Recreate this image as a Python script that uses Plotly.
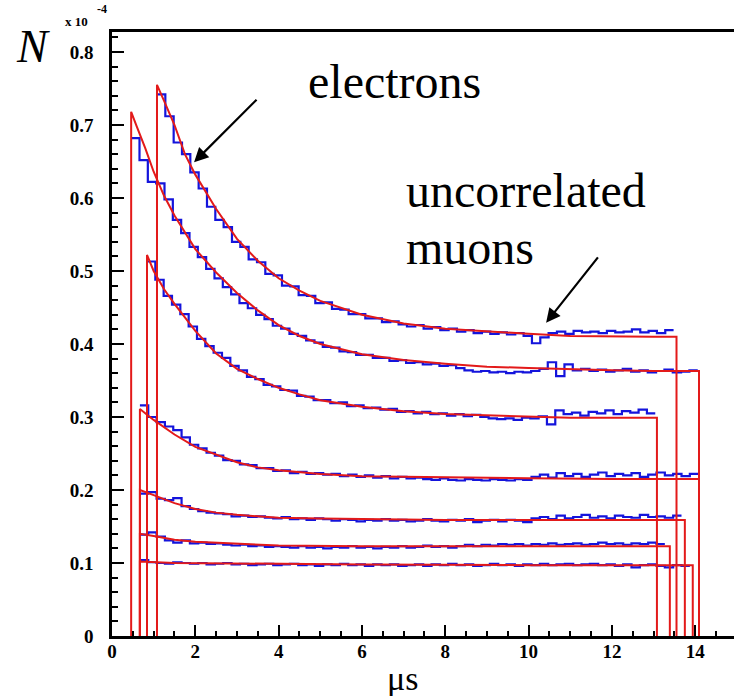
import numpy as np
import plotly.graph_objects as go

BIN = 0.2

# ---- blue histograms (measured), bin start edge + values ----
a_start = 1.08
a_vals = [0.742, 0.712, 0.676, 0.660, 0.635, 0.613, 0.588, 0.570, 0.560, 0.540,
          0.533, 0.516, 0.512, 0.496, 0.494, 0.480, 0.479, 0.467, 0.466, 0.456,
          0.457, 0.448, 0.447, 0.441, 0.441, 0.435, 0.435, 0.430, 0.431, 0.427,
          0.424, 0.426, 0.421, 0.423, 0.419, 0.421, 0.417, 0.419, 0.415, 0.417,
          0.414, 0.416, 0.413, 0.415, 0.411, 0.401, 0.409, 0.415, 0.417, 0.414,
          0.418, 0.416, 0.417, 0.415, 0.418, 0.416, 0.417, 0.420, 0.416, 0.418,
          0.415, 0.419]
b_start = 0.46
b_vals = [0.682, 0.652, 0.622, 0.620, 0.598, 0.570, 0.552, 0.533, 0.519, 0.503,
          0.490, 0.478, 0.468, 0.456, 0.449, 0.440, 0.434, 0.425, 0.421, 0.414,
          0.411, 0.405, 0.402, 0.396, 0.395, 0.390, 0.389, 0.385, 0.385, 0.381,
          0.381, 0.377, 0.378, 0.374, 0.375, 0.372, 0.373, 0.370, 0.371, 0.367,
          0.364, 0.362, 0.363, 0.361, 0.362, 0.360, 0.362, 0.361, 0.363, 0.366,
          0.375, 0.356, 0.372, 0.364, 0.366, 0.363, 0.365, 0.362, 0.364, 0.366,
          0.362, 0.364, 0.361, 0.363, 0.365, 0.361, 0.362, 0.364]
c_start = 0.84
c_vals = [0.513, 0.488, 0.466, 0.454, 0.441, 0.424, 0.407, 0.397, 0.388, 0.381,
          0.370, 0.364, 0.355, 0.352, 0.344, 0.342, 0.337, 0.336, 0.329, 0.328,
          0.323, 0.323, 0.319, 0.320, 0.315, 0.316, 0.312, 0.313, 0.310, 0.311,
          0.307, 0.308, 0.305, 0.307, 0.304, 0.305, 0.302, 0.304, 0.301, 0.303,
          0.300, 0.298, 0.297, 0.298, 0.296, 0.299, 0.298, 0.301, 0.290, 0.309,
          0.304, 0.306, 0.302, 0.307, 0.305, 0.309, 0.304, 0.308, 0.306, 0.310,
          0.305]
d_start = 0.67
d_vals = [0.316, 0.300, 0.293, 0.287, 0.282, 0.272, 0.262, 0.257, 0.251, 0.247,
          0.241, 0.240, 0.235, 0.234, 0.230, 0.230, 0.226, 0.227, 0.223, 0.225,
          0.222, 0.223, 0.221, 0.222, 0.219, 0.221, 0.218, 0.220, 0.217, 0.219,
          0.216, 0.218, 0.216, 0.217, 0.215, 0.214, 0.216, 0.214, 0.213, 0.215,
          0.214, 0.213, 0.215, 0.214, 0.213, 0.215, 0.214, 0.218, 0.221, 0.217,
          0.223, 0.219, 0.222, 0.218, 0.221, 0.224, 0.219, 0.222, 0.220, 0.223,
          0.218, 0.221, 0.224, 0.220, 0.222, 0.219, 0.222]
e_start = 0.67
e_vals = [0.195, 0.197, 0.188, 0.186, 0.189, 0.178, 0.174, 0.171, 0.169, 0.168,
          0.167, 0.164, 0.165, 0.163, 0.164, 0.162, 0.161, 0.163, 0.160, 0.161,
          0.159, 0.161, 0.160, 0.158, 0.160, 0.159, 0.157, 0.159, 0.158, 0.160,
          0.158, 0.159, 0.157, 0.158, 0.160, 0.158, 0.157, 0.159, 0.158, 0.160,
          0.156, 0.158, 0.159, 0.157, 0.159, 0.158, 0.156, 0.161, 0.163, 0.160,
          0.165, 0.161, 0.163, 0.166, 0.162, 0.164, 0.161, 0.165, 0.163, 0.162,
          0.166, 0.163, 0.164, 0.162, 0.165]
f_start = 0.67
f_vals = [0.139, 0.142, 0.136, 0.131, 0.128, 0.131, 0.127, 0.128, 0.126, 0.127,
          0.125, 0.124, 0.125, 0.123, 0.124, 0.122, 0.123, 0.122, 0.121, 0.123,
          0.121, 0.122, 0.120, 0.122, 0.121, 0.123, 0.121, 0.122, 0.120, 0.122,
          0.121, 0.123, 0.121, 0.122, 0.124, 0.122, 0.123, 0.121, 0.123, 0.125,
          0.123, 0.125, 0.124, 0.126, 0.125, 0.126, 0.124, 0.126, 0.125, 0.127,
          0.125, 0.126, 0.127, 0.125, 0.126, 0.128, 0.126, 0.127, 0.125, 0.127,
          0.126, 0.128, 0.126]
g_start = 0.67
g_vals = [0.104, 0.101, 0.100, 0.099, 0.101, 0.100, 0.099, 0.100, 0.098, 0.099,
          0.100, 0.098, 0.099, 0.097, 0.098, 0.099, 0.097, 0.098, 0.099, 0.097,
          0.098, 0.096, 0.098, 0.097, 0.099, 0.097, 0.098, 0.096, 0.098, 0.097,
          0.098, 0.096, 0.097, 0.098, 0.096, 0.098, 0.097, 0.099, 0.097, 0.098,
          0.096, 0.097, 0.099, 0.097, 0.098, 0.096, 0.098, 0.097, 0.099, 0.097,
          0.098, 0.099, 0.097, 0.098, 0.099, 0.097, 0.098, 0.096, 0.098, 0.094,
          0.097, 0.098, 0.096, 0.094, 0.097, 0.096]

# ---- red fitted curves ----
a_fit_x = [1.08, 1.25, 1.5, 1.75, 2.0, 2.5, 3.0, 3.5, 4.0, 4.5, 5.0, 6.0, 7.0, 8.0, 9.0, 10.0, 11.0, 12.0, 13.0, 13.55]
a_fit_y = [0.755, 0.733, 0.700, 0.660, 0.632, 0.585, 0.544, 0.514, 0.490, 0.473, 0.459, 0.440, 0.428, 0.421, 0.417, 0.414, 0.411, 0.410, 0.410, 0.410]
b_fit_x = [0.46, 0.6, 0.8, 1.0, 1.25, 1.5, 1.75, 2.0, 2.5, 3.0, 3.5, 4.0, 4.5, 5.0, 6.0, 7.0, 8.0, 9.0, 10.0, 11.0, 12.0, 13.0, 14.09]
b_fit_y = [0.718, 0.697, 0.668, 0.636, 0.603, 0.576, 0.552, 0.530, 0.498, 0.470, 0.446, 0.426, 0.411, 0.400, 0.386, 0.378, 0.373, 0.369, 0.367, 0.365, 0.364, 0.363, 0.363]
c_fit_x = [0.84, 1.0, 1.25, 1.5, 1.75, 2.0, 2.5, 3.0, 3.5, 4.0, 4.5, 5.0, 6.0, 7.0, 8.0, 9.0, 10.0, 11.0, 12.0, 13.08]
c_fit_y = [0.522, 0.500, 0.475, 0.455, 0.436, 0.418, 0.387, 0.366, 0.352, 0.340, 0.331, 0.323, 0.314, 0.308, 0.304, 0.302, 0.300, 0.299, 0.299, 0.299]
d_fit_x = [0.67, 1.0, 1.5, 2.0, 2.5, 3.0, 3.5, 4.0, 5.0, 6.0, 7.0, 8.0, 9.0, 10.0, 12.0, 14.09]
d_fit_y = [0.311, 0.296, 0.276, 0.259, 0.248, 0.238, 0.231, 0.227, 0.222, 0.219, 0.218, 0.217, 0.216, 0.216, 0.215, 0.215]
e_fit_x = [0.67, 1.0, 1.5, 2.0, 2.5, 3.0, 4.0, 5.0, 6.0, 8.0, 10.0, 13.75]
e_fit_y = [0.200, 0.193, 0.182, 0.174, 0.169, 0.166, 0.162, 0.161, 0.160, 0.159, 0.159, 0.159]
f_fit_x = [0.67, 1.0, 1.5, 2.0, 3.0, 4.0, 6.0, 9.0, 13.39]
f_fit_y = [0.140, 0.137, 0.132, 0.129, 0.126, 0.124, 0.123, 0.123, 0.123]
g_fit_x = [0.67, 1.5, 3.0, 6.0, 10.0, 13.94]
g_fit_y = [0.102, 0.100, 0.099, 0.098, 0.097, 0.097]

x_tickvals = [0, 2, 4, 6, 8, 10, 12, 14]
x_ticktext = ["0", "2", "4", "6", "8", "10", "12", "14"]
y_tickvals = [0, 0.1, 0.2, 0.3, 0.4, 0.5, 0.6, 0.7, 0.8]
y_ticktext = ["0", "0.1", "0.2", "0.3", "0.4", "0.5", "0.6", "0.7", "0.8"]

BLUE = "#1414dc"
RED = "#e31a1a"

hists = [(a_start, a_vals), (b_start, b_vals), (c_start, c_vals), (d_start, d_vals),
         (e_start, e_vals), (f_start, f_vals), (g_start, g_vals)]
fits = [(a_fit_x, a_fit_y), (b_fit_x, b_fit_y), (c_fit_x, c_fit_y), (d_fit_x, d_fit_y),
        (e_fit_x, e_fit_y), (f_fit_x, f_fit_y), (g_fit_x, g_fit_y)]

fig = go.Figure()
for start, vals in hists:
    edges = start + BIN * np.arange(len(vals) + 1)
    ys = list(vals) + [vals[-1]]
    fig.add_trace(go.Scatter(x=edges, y=ys, mode="lines", line=dict(color=BLUE, width=2.2, shape="hv"),
                             hoverinfo="skip"))
for fx, fy in fits:
    xs = [fx[0]] + list(fx) + [fx[-1]]
    ys = [0] + list(fy) + [0]
    fig.add_trace(go.Scatter(x=xs, y=ys, mode="lines", line=dict(color=RED, width=2),
                             hoverinfo="skip"))

SERIF = "Times New Roman, Liberation Serif, DejaVu Serif, serif"
TICKSIZE = 19

fig.update_layout(
    width=734, height=696,
    margin=dict(l=112, r=0, t=32, b=60),
    plot_bgcolor="white", paper_bgcolor="white",
    showlegend=False,
    font=dict(family=SERIF, size=TICKSIZE, color="black"),
)
fig.update_xaxes(range=[0, 14.93], showline=True, linewidth=2.5, linecolor="black", mirror=True,
                 ticks="inside", ticklen=11, tickwidth=1.5, tickcolor="black",
                 tickmode="array", tickvals=x_tickvals, ticktext=["<b>%s</b>" % t for t in x_ticktext],
                 minor=dict(dtick=0.5, tick0=0, ticks="inside", ticklen=5, tickwidth=1.5, tickcolor="black"),
                 showgrid=False, zeroline=False,
                 tickfont=dict(family=SERIF, size=TICKSIZE, color="black"), ticklabelstandoff=-4)
fig.update_yaxes(range=[0, 0.8274], showline=True, linewidth=2.5, linecolor="black", mirror=False,
                 ticks="inside", ticklen=12, tickwidth=1.5, tickcolor="black",
                 tickmode="array", tickvals=y_tickvals, ticktext=["<b>%s</b>" % t for t in y_ticktext],
                 minor=dict(dtick=0.02, tick0=0, ticks="inside", ticklen=6, tickwidth=1.5, tickcolor="black"),
                 showgrid=False, zeroline=False,
                 tickfont=dict(family=SERIF, size=TICKSIZE, color="black"), ticklabelstandoff=12)

def px(xp):
    return (xp - 112) / 622.0

def py(yp):
    return (636 - yp) / 604.0

anns = [
    dict(text="<i>N</i>", x=px(33), y=py(47), font=dict(family=SERIF, size=46)),
    dict(text="<b>x 10</b>", x=px(76), y=py(21), font=dict(family=SERIF, size=13)),
    dict(text="<b>-4</b>", x=px(102), y=py(9), font=dict(family=SERIF, size=12)),
    dict(text="electrons", x=px(394), y=py(82), font=dict(family=SERIF, size=48)),
    dict(text="uncorrelated", x=px(404), y=py(191), xanchor="left", font=dict(family=SERIF, size=48)),
    dict(text="muons", x=px(404), y=py(247), xanchor="left", font=dict(family=SERIF, size=48)),
    dict(text="\u03bcs", x=px(402), y=py(678), font=dict(family=SERIF, size=34)),
]
for a in anns:
    a.setdefault("xanchor", "center")
    fig.add_annotation(xref="paper", yref="paper", showarrow=False, yanchor="middle",
                       font_color="black", **a)

fig.add_annotation(x=1.97, y=0.649, xref="x", yref="y", ax=64, ay=-64, text="",
                   showarrow=True, arrowhead=2, arrowsize=1.3, arrowwidth=2.2, arrowcolor="black")
fig.add_annotation(x=10.42, y=0.429, xref="x", yref="y", ax=53, ay=-67, text="",
                   showarrow=True, arrowhead=2, arrowsize=1.3, arrowwidth=2.2, arrowcolor="black")

fig.write_html("out.html", config={"displayModeBar": False},
               post_script="document.body.style.margin='0px';document.body.style.overflow='hidden';")
